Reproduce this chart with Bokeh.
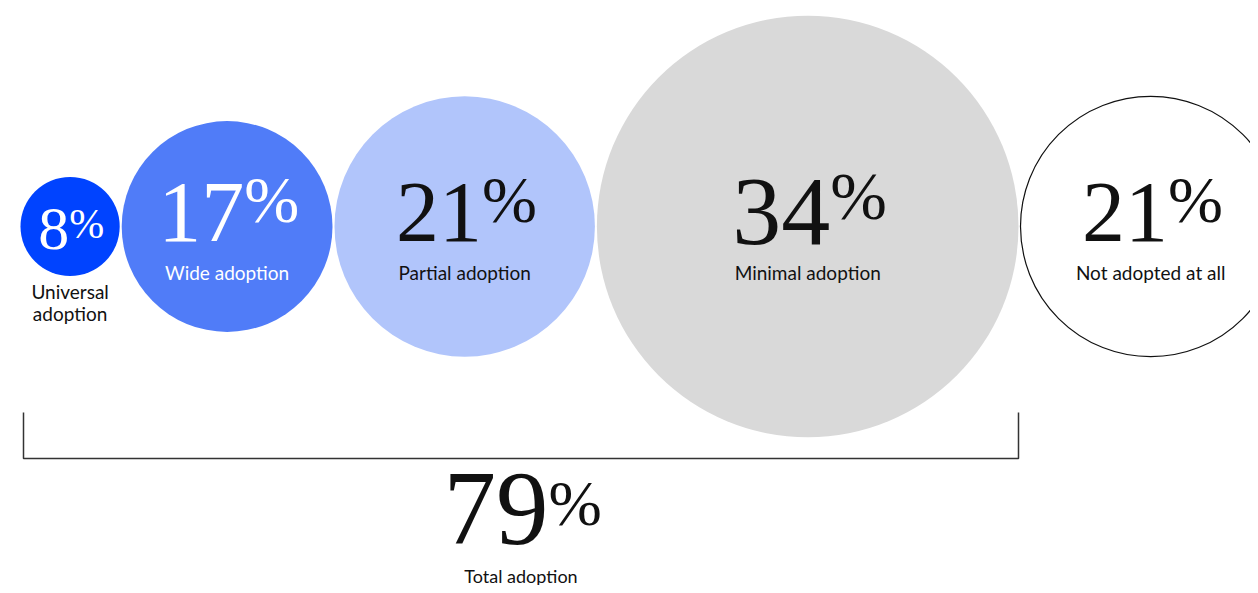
from bokeh.plotting import figure
from bokeh.models import Range1d, ColumnDataSource
from bokeh.core.properties import value
from bokeh.embed import file_html
from bokeh.resources import INLINE

# ---- data ----
values = [8, 17, 21, 34, 21]
pct_text = ["8", "17", "21", "34", "21"]
labels = ["Universal\nadoption", "Wide adoption", "Partial adoption",
          "Minimal adoption", "Not adopted at all"]
total_value = 79
total_text = "79"
total_label = "Total adoption"

# ---- styles ----
fills = ["#0043ff", "#507cf8", "#b1c5fb", "#d9d9d9", "#ffffff"]
strokes = [None, None, None, None, "#111111"]
num_colors = ["#ffffff", "#ffffff", "#111111", "#111111", "#111111"]
label_colors = ["#111111", "#ffffff", "#111111", "#111111", "#111111"]
digit_sizes = [62, 86, 86, 98, 86]
pct_sizes = [42, 66, 66, 68, 66]
num_baselines = [248, 240, 240, 243, 240]
pct_raise = [2, 5, 5, 10, 5]

W, H = 1250, 585
SCALE = 6.2   # px of radius per percentage point
GAP = 2
X0 = 20
CY = 226
SERIF = "Liberation Serif"
SANS = "Lato"

# ---- layout ----
radii, centers = [], []
left = X0
for v in values:
    r = v * SCALE
    radii.append(r)
    centers.append(left + r)
    left = left + 2 * r + GAP


def split_x(cx, ndig, ds, ps):
    total = ndig * 0.5 * ds + 0.78 * ps
    return cx - total / 2 + ndig * 0.5 * ds


split = [split_x(c, len(t), d, s) for c, t, d, s in zip(centers, pct_text, digit_sizes, pct_sizes)]
label_y = [CY + radii[0] + 4] + [CY + 46] * 4

p = figure(width=W, height=H, output_backend="svg", toolbar_location=None,
           x_range=Range1d(0, W), y_range=Range1d(H, 0),
           x_axis_type=None, y_axis_type=None, min_border=0)
p.outline_line_color = None
p.background_fill_color = "#ffffff"
p.border_fill_color = "#ffffff"

src = ColumnDataSource(dict(
    x=centers, y=[CY] * len(values), r=radii, fill=fills,
    stroke=[s if s else "rgba(0,0,0,0)" for s in strokes],
    split=split, nb=num_baselines,
    pb=[b - r for b, r in zip(num_baselines, pct_raise)],
    num=pct_text, pct=["%"] * len(values),
    ds=[f"{d}px" for d in digit_sizes], ps=[f"{s}px" for s in pct_sizes],
    nc=num_colors,
))

p.circle(x="x", y="y", radius="r", fill_color="fill", line_color="stroke",
         line_width=1.2, source=src)

p.text(x="split", y="nb", text="num", text_font=value(SERIF), text_font_size="ds",
       text_align="right", text_baseline="bottom", text_color="nc", source=src)
p.text(x="split", y="pb", text="pct", text_font=value(SERIF), text_font_size="ps",
       text_align="left", text_baseline="bottom", text_color="nc", source=src)

# in-circle labels
p.text(x=centers[1:], y=label_y[1:], text=labels[1:], text_font=value(SANS),
       text_font_size="19px", text_align="center", text_baseline="middle",
       text_color=label_colors[1:])
# universal label below circle
p.text(x=[centers[0]], y=[label_y[0]], text=[labels[0]], text_font=value(SANS),
       text_font_size="19px", text_align="center", text_baseline="top",
       text_color=[label_colors[0]], text_line_height=0.95)

# bracket spanning first four circles
bl = centers[0] - radii[0] + 3
br = centers[3] + radii[3]
p.line(x=[bl, bl, br, br], y=[412, 458, 458, 412], line_color="#333333", line_width=1.5)

# total
bc = (bl + br) / 2
tds, tps = 105, 64
tsplit = split_x(bc, len(total_text), tds, tps)
p.text(x=[tsplit], y=[543], text=[total_text], text_font=value(SERIF),
       text_font_size=f"{tds}px", text_align="right", text_baseline="bottom",
       text_color="#111111")
p.text(x=[tsplit], y=[538], text=["%"], text_font=value(SERIF),
       text_font_size=f"{tps}px", text_align="left", text_baseline="bottom",
       text_color="#111111")
p.text(x=[bc], y=[575], text=[total_label], text_font=value(SANS),
       text_font_size="18px", text_align="center", text_baseline="middle",
       text_color="#111111")

open("out.html", "w").write(file_html(p, INLINE))
